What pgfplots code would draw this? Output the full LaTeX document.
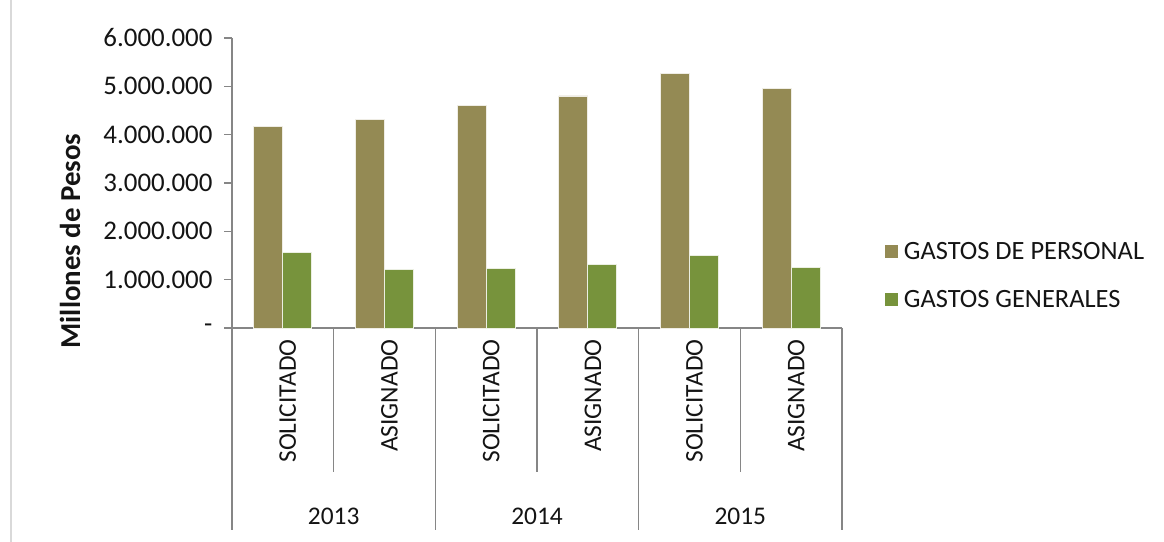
\documentclass[border=0pt]{standalone}
\usepackage{fontspec}
\setmainfont{Carlito}
\usepackage{pgfplots}
\pgfplotsset{compat=1.18}
\definecolor{personal}{HTML}{948A54}
\definecolor{generales}{HTML}{77933C}
\definecolor{axisgray}{HTML}{868686}
\definecolor{txt}{HTML}{141414}
\newcommand{\tickfont}{\fontsize{25.5}{30}\selectfont}
\newcommand{\ytickfont}{\fontsize{27}{32}\selectfont}
\newcommand{\legfont}{\fontsize{26.5}{31}\selectfont}
\begin{document}
\begin{tikzpicture}[x=1bp,y=1bp]
\path[use as bounding box] (0,0) rectangle (1164,542);
\draw[black!15, line width=1.5bp] (11,0) -- (11,542);
\node[rotate=90, font=\fontsize{29}{34}\selectfont\bfseries, text=txt] at (70,301) {Millones de Pesos};
\begin{axis}[
  at={(232bp,214bp)}, anchor=south west,
  scale only axis, width=610bp, height=290bp,
  xmin=-0.5, xmax=5.5, ymin=0, ymax=6000000,
  ybar=0pt, bar width=0.285,
  axis x line*=bottom, axis y line*=left,
  axis line style={axisgray, line width=1.5bp},
  ytick={0,1000000,2000000,3000000,4000000,5000000,6000000},
  yticklabels={-,1.000.000,2.000.000,3.000.000,4.000.000,5.000.000,6.000.000},
  scaled y ticks=false,
  y tick style={axisgray, line width=1.5bp},
  major tick length=8bp, tick align=outside,
  xtick={0,1,2,3,4,5},
  xticklabels={SOLICITADO,ASIGNADO,SOLICITADO,ASIGNADO,SOLICITADO,ASIGNADO},
  x tick style={draw=none},
  xticklabel style={rotate=90, anchor=east, font=\tickfont, text=txt, yshift=-5bp},
  yticklabel style={font=\ytickfont, text=txt, xshift=-8bp},
  clip=false,
  legend style={draw=none, fill=none, at={(1.070,0.181)}, anchor=west,
    font=\legfont, text=txt, row sep=25bp, column sep=4bp, inner sep=0pt},
  legend cell align=left,
  legend image code/.code={\fill[#1,draw=none] (0bp,-6.5bp) rectangle (13bp,6.5bp);},
]
\addplot[fill=personal, draw=white!85!personal, line width=0.8bp] coordinates {
  (0,4170000) (1,4320000) (2,4610000) (3,4800000) (4,5260000) (5,4950000)};
\addplot[fill=generales, draw=white!85!generales, line width=0.8bp] coordinates {
  (0,1570000) (1,1210000) (2,1240000) (3,1310000) (4,1500000) (5,1250000)};
\legend{GASTOS DE PERSONAL, GASTOS GENERALES}
\draw[axisgray, line width=1.5bp] (axis cs:0.5,0) -- ++(0pt,-144bp);
\draw[axisgray, line width=1.5bp] (axis cs:2.5,0) -- ++(0pt,-144bp);
\draw[axisgray, line width=1.5bp] (axis cs:4.5,0) -- ++(0pt,-144bp);
\draw[axisgray, line width=1.5bp] (axis cs:-0.5,0) -- ++(0pt,-202bp);
\draw[axisgray, line width=1.5bp] (axis cs:1.5,0) -- ++(0pt,-202bp);
\draw[axisgray, line width=1.5bp] (axis cs:3.5,0) -- ++(0pt,-202bp);
\draw[axisgray, line width=1.5bp] (axis cs:5.5,0) -- ++(0pt,-202bp);
\node[font=\tickfont, text=txt] at (axis cs:0.5,0) [yshift=-188bp] {2013};
\node[font=\tickfont, text=txt] at (axis cs:2.5,0) [yshift=-188bp] {2014};
\node[font=\tickfont, text=txt] at (axis cs:4.5,0) [yshift=-188bp] {2015};
\end{axis}
\end{tikzpicture}
\end{document}
